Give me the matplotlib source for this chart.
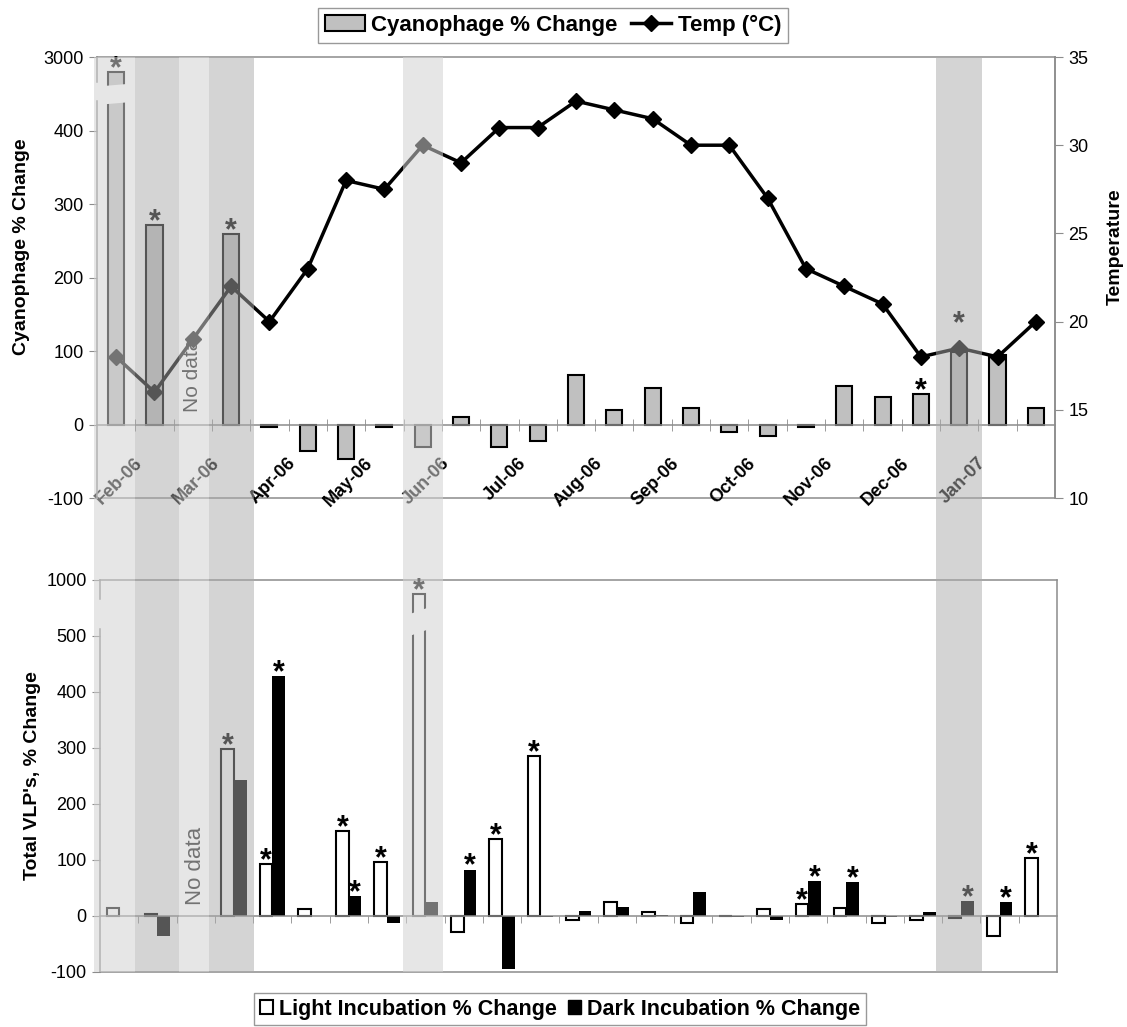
import matplotlib

matplotlib.use("Agg")
import matplotlib.pyplot as plt
import numpy as np
from matplotlib.lines import Line2D
from matplotlib.patches import Patch, Polygon, Rectangle
from matplotlib.transforms import blended_transform_factory

plt.rcParams["font.family"] = ["Liberation Sans", "DejaVu Sans"]

AX_GREY = "#8c8c8c"
BAR_GREY = "#c0c0c0"

# 25 sampling dates, two per month; labels sit on every second one
months = ["Feb-06", "Mar-06", "Apr-06", "May-06", "Jun-06", "Jul-06",
          "Aug-06", "Sep-06", "Oct-06", "Nov-06", "Dec-06", "Jan-07"]
cyano_change = [2800, 271, np.nan, 259, -4, -36, -47, -4, -30, 10, -30, -23, 68,
                20, 50, 22, -10, -15, -3, 52, 37, 42, 98, 95, 22]
cyano_sig = [0, 1, 3, 21, 22]
temp_c = [18, 16, 19, 22, 20, 23, 28, 27.5, 30, 29, 31, 31, 32.5, 32, 31.5, 30,
          30, 27, 23, 22, 21, 18, 18.5, 18, 20]
light_change = [15, 3, np.nan, 298, 92, 12, 151, 96, 950, -28, 137, 285, -8, 25,
                8, -12, 0, 12, 21, 15, -12, -8, -3, -35, 104]
dark_change = [0, -35, np.nan, 242, 428, 0, 35, -12, 25, 83, -95, -2, 9, 16, 2,
               42, -2, -8, 62, 60, -2, 8, 26, 25, 0]
light_sig = [3, 4, 6, 7, 8, 10, 11, 18, 24]
dark_sig = [4, 6, 9, 18, 19, 22, 23]
no_data_idx = 2
# shaded periods, in sample units
bands = [(-0.58, 0.5, "light"), (0.5, 1.65, "dark"), (1.65, 2.42, "light"),
         (2.42, 3.6, "dark"), (7.48, 8.52, "light"), (21.4, 22.6, "dark")]
BAND_STYLE = {"light": ("#d2d2d2", 0.55), "dark": ("#aaaaaa", 0.5)}


def squash_top(v):
    # broken axis: 0..400 linear, then 2600..3000 squeezed into the last slot
    v = np.asarray(v, float)
    return np.where(v > 450, 460 + (v - 2600) * 0.1, v)


def squash_bot(v):
    v = np.asarray(v, float)
    return np.where(v > 600, 550 + (v - 900) * 0.5, v)


def break_gap(ax, xc, half, y_lo, y_hi, rise):
    ax.add_patch(Polygon([(xc - half, y_lo), (xc + half, y_lo + rise),
                          (xc + half, y_hi + rise), (xc - half, y_hi)],
                         closed=True, facecolor="white", edgecolor="none", zorder=4))


def star(ax, xc, y, dy=2):
    ax.annotate("*", (xc, y), xytext=(0, dy), textcoords="offset points",
                ha="center", va="center", fontsize=22, fontweight="bold", zorder=5)


W, H = 1127, 1027
fig = plt.figure(figsize=(W / 100, H / 100), dpi=100)


def px_axes(l, t, r, b):
    return fig.add_axes([l / W, 1 - b / H, (r - l) / W, (b - t) / H])


ax1 = px_axes(97, 57, 1055, 498)
ax2 = px_axes(100, 580, 1057, 972)
x = np.arange(len(cyano_change))
bounds = np.arange(1, len(x)) - 0.5

# ---------------- top: cyanophage + temperature ----------------
cy = np.array(cyano_change, float)
ok = np.isfinite(cy)
cy_disp = squash_top(cy)
ax1.bar(x[ok], cy_disp[ok], width=0.42, color=BAR_GREY, edgecolor="black",
        linewidth=1.5, zorder=2)
break_gap(ax1, 0, 0.45, 435, 460, 4)
ax1.set_xlim(-0.5, len(x) - 0.5)
ax1.set_ylim(-100, 500)
ax1.set_yticks([-100, 0, 100, 200, 300, 400, float(squash_top(3000))],
               ["-100", "0", "100", "200", "300", "400", "3000"])
ax1.text(no_data_idx, 67, "No data", rotation=90, ha="center", va="center",
         fontsize=15, zorder=5)

axt = ax1.twinx()
axt.plot(x, temp_c, color="black", lw=2.5, marker="D", ms=8, zorder=3)
axt.set_ylim(10, 35)
axt.set_yticks(np.arange(10, 36, 5))
for s in ("left", "top", "bottom"):
    axt.spines[s].set_visible(False)
axt.spines["right"].set_color(AX_GREY)
axt.spines["right"].set_linewidth(1.1)
axt.tick_params(axis="y", direction="out", length=6, color=AX_GREY, labelsize=13)
axt.set_ylabel("Temperature", fontsize=14, fontweight="bold")
axt.yaxis.set_label_coords(1.054, 0.57)

temp_left = (np.array(temp_c) - 10) / 25 * 600 - 100
for i in cyano_sig:
    base = cy_disp[i]
    if 0 <= temp_left[i] - base <= 30:   # marker sits on the bar: star goes above it
        star(ax1, i, temp_left[i], dy=17)
    else:
        star(ax1, i, base)

# ---------------- bottom: VLPs ----------------
lt = np.array(light_change, float)
dk = np.array(dark_change, float)
bw = 0.33
okl, okd = np.isfinite(lt), np.isfinite(dk)
lt_disp = squash_bot(lt)
ax2.bar(x[okl] - bw / 2, lt_disp[okl], width=bw, facecolor="white",
        edgecolor="black", linewidth=1.5, zorder=2)
ax2.bar(x[okd] + bw / 2, dk[okd], width=bw, color="black", zorder=2)
break_gap(ax2, 8 - bw / 2, 0.25, 500, 539, 12)
ax2.set_xlim(-0.5, len(x) - 0.5)
ax2.set_ylim(-100, 600)
ax2.set_yticks([-100, 0, 100, 200, 300, 400, 500, float(squash_bot(1000))],
               ["-100", "0", "100", "200", "300", "400", "500", "1000"])
ax2.text(no_data_idx, 90, "No data", rotation=90, ha="center", va="center",
         fontsize=16, zorder=5)
for i in light_sig:
    star(ax2, i - bw / 2, lt_disp[i])
for i in dark_sig:
    star(ax2, i + bw / 2, max(dk[i], 0))

# ---------------- axes cosmetics ----------------
for ax, ylab, lab_x, gap in ((ax1, "Cyanophage % Change", -0.070, (440, 466)),
                             (ax2, "Total VLP's, % Change", -0.062, (512, 566))):
    for s in ax.spines.values():
        s.set_color(AX_GREY)
        s.set_linewidth(1.1)
    ax.spines["bottom"].set_position(("data", 0))
    ax.plot([0, 1], [0, 0], transform=ax.transAxes, color=AX_GREY, lw=1.1,
            clip_on=False, zorder=1)
    # broken left axis
    lo, hi = ax.get_ylim()
    ax.spines["left"].set_bounds(lo, gap[0])
    ax.plot([0, 0], [gap[1], hi], transform=ax.get_yaxis_transform(),
            color=AX_GREY, lw=1.1, clip_on=False)
    ax.set_xticks(bounds, minor=True)
    ax.tick_params(axis="y", direction="out", length=6, color=AX_GREY, labelsize=13)
    ax.set_ylabel(ylab, fontsize=14, fontweight="bold")
    ax.yaxis.set_label_coords(lab_x, 0.5)

ax1.yaxis.set_label_coords(-0.070, 0.57)
ax1.set_xticks(np.arange(len(months)) * 2 + 0.62, months)
ax1.tick_params(axis="x", which="major", length=0, pad=26, labelsize=13)
ax1.tick_params(axis="x", which="minor", direction="inout", length=9, color=AX_GREY)
plt.setp(ax1.get_xticklabels(), rotation=45, ha="right", va="center",
         rotation_mode="anchor", fontweight="bold")
ax2.set_xticks([])
ax2.set_xticks(bounds, minor=True)
ax2.tick_params(axis="x", which="minor", direction="out", length=5, color=AX_GREY)

# ---------------- shaded periods laid over both panels ----------------
trans = blended_transform_factory(ax1.transData, fig.transFigure)
y_bot = ax2.get_position().y0
y_top = ax1.get_position().y1
for a, b, tone in bands:
    fc, al = BAND_STYLE[tone]
    fig.add_artist(Rectangle((a, y_bot), b - a, y_top - y_bot, transform=trans,
                             facecolor=fc, alpha=al, linewidth=0, zorder=10))

# ---------------- legends ----------------
h_top = [Patch(facecolor=BAR_GREY, edgecolor="black", linewidth=1.5),
         Line2D([], [], color="black", lw=2.5, marker="D", ms=8)]
fig.legend(h_top, ["Cyanophage % Change", "Temp (°C)"], loc="center",
           bbox_to_anchor=(553 / W, 1 - 25.5 / H), ncol=2, fancybox=False,
           edgecolor="#999999", framealpha=1, prop={"size": 16, "weight": "bold"},
           handlelength=1.8, handleheight=0.7, handletextpad=0.3,
           columnspacing=0.6, borderpad=0.3)
h_bot = [Patch(facecolor="white", edgecolor="black", linewidth=1.5),
         Patch(facecolor="black", edgecolor="black")]
fig.legend(h_bot, ["Light Incubation % Change", "Dark Incubation % Change"],
           loc="center", bbox_to_anchor=(560 / W, 1 - 1009 / H), ncol=2,
           fancybox=False, edgecolor="#999999", framealpha=1,
           prop={"size": 15.5, "weight": "bold"}, handlelength=0.6,
           handleheight=0.6, handletextpad=0.3, columnspacing=0.5, borderpad=0.25)

fig.savefig("out.png", dpi=100)
